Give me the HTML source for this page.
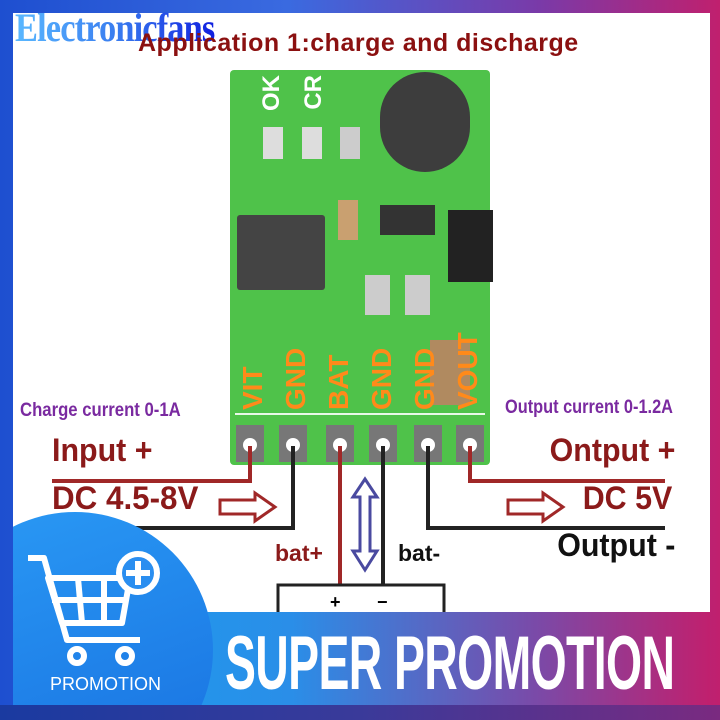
<!DOCTYPE html>
<html><head><style>
html,body{margin:0;width:720px;height:720px;overflow:hidden}
body{position:relative;font-family:"Liberation Sans",sans-serif;background:#fff}
.a{position:absolute}
.t{position:absolute;font-weight:bold;white-space:nowrap}
</style></head><body>
<div class="a" style="left:0;top:0;width:720px;height:720px;background:linear-gradient(90deg,#1e4fd0,#3a6ae0 40%,#7a3aa8 75%,#c0206e)"></div>
<div class="a" style="left:13px;top:13px;width:697px;height:692px;background:#fff"></div>
<div class="a" style="left:0;top:705px;width:720px;height:15px;background:linear-gradient(90deg,#1a3aa0,#3a3a9a 50%,#7a2a80)"></div>

<div class="t" style="left:15px;top:4px;font-family:'Liberation Serif',serif;font-size:40px;background:linear-gradient(90deg,#5ab8ff,#3a7ef0 50%,#1020e0);-webkit-background-clip:text;background-clip:text;color:transparent;transform:scaleX(.86);transform-origin:left;letter-spacing:-1px">Electronicfans</div>
<div class="t" style="left:138px;top:29px;font-size:25px;color:#8b1010;letter-spacing:0.5px">Application 1:charge and discharge</div>

<!-- board -->
<div class="a" style="left:230px;top:70px;width:260px;height:395px;background:#4fc24a;border-radius:4px"></div>
<div class="a" style="left:235px;top:413px;width:250px;height:2px;background:#e8f8e8"></div>
<div class="a" style="left:380px;top:72px;width:90px;height:100px;border-radius:45px;background:#3d3d3d"></div>
<div class="a" style="left:237px;top:215px;width:88px;height:75px;background:#444;border-radius:3px"></div>
<div class="a" style="left:380px;top:205px;width:55px;height:30px;background:#333"></div>
<div class="a" style="left:448px;top:210px;width:45px;height:72px;background:#222"></div>
<div class="a" style="left:263px;top:127px;width:20px;height:32px;background:#ddd"></div>
<div class="a" style="left:302px;top:127px;width:20px;height:32px;background:#ddd"></div>
<div class="a" style="left:340px;top:127px;width:20px;height:32px;background:#ccc"></div>
<div class="a" style="left:338px;top:200px;width:20px;height:40px;background:#c9a070"></div>
<div class="a" style="left:365px;top:275px;width:25px;height:40px;background:#ccc"></div>
<div class="a" style="left:405px;top:275px;width:25px;height:40px;background:#ccc"></div>
<div class="a" style="left:430px;top:340px;width:40px;height:65px;background:#b08a60"></div>
<div class="t" style="left:237px;top:330px;width:250px;height:80px;overflow:hidden;font-size:28px;color:#ff8a1a;display:flex;gap:11px">
<span style="writing-mode:vertical-rl;transform:rotate(180deg)">VIT</span><span style="writing-mode:vertical-rl;transform:rotate(180deg)">GND</span><span style="writing-mode:vertical-rl;transform:rotate(180deg)">BAT</span><span style="writing-mode:vertical-rl;transform:rotate(180deg)">GND</span><span style="writing-mode:vertical-rl;transform:rotate(180deg)">GND</span><span style="writing-mode:vertical-rl;transform:rotate(180deg)">VOUT</span></div>
<div class="t" style="left:258px;top:75px;font-size:24px;color:#fff;writing-mode:vertical-rl;transform:rotate(180deg)">OK</div>
<div class="t" style="left:300px;top:75px;font-size:24px;color:#fff;writing-mode:vertical-rl;transform:rotate(180deg)">CR</div>

<svg class="a" style="left:0;top:0" width="720" height="720">
<g fill="#777"><rect x="236" y="425" width="28" height="37"/><rect x="279" y="425" width="28" height="37"/><rect x="326" y="425" width="28" height="37"/><rect x="369" y="425" width="28" height="37"/><rect x="414" y="425" width="28" height="37"/><rect x="456" y="425" width="28" height="37"/></g>
<g fill="#fff"><circle cx="250" cy="445" r="7"/><circle cx="293" cy="445" r="7"/><circle cx="340" cy="445" r="7"/><circle cx="383" cy="445" r="7"/><circle cx="428" cy="445" r="7"/><circle cx="470" cy="445" r="7"/></g>
<g fill="none" stroke-width="4">
<polyline points="250,446 250,481 52,481" stroke="#a02828"/>
<polyline points="293,446 293,528 100,528" stroke="#222"/>
<polyline points="340,446 340,585" stroke="#a02828"/>
<polyline points="383,446 383,585" stroke="#222"/>
<polyline points="428,446 428,528 665,528" stroke="#222"/>
<polyline points="470,446 470,481 665,481" stroke="#a02828"/>
<rect x="278" y="585" width="166" height="40" stroke="#222" stroke-width="3"/>
<polygon points="220,500 255,500 255,493 275,507 255,521 255,514 220,514" stroke="#a02828" stroke-width="3"/>
<polygon points="508,500 543,500 543,493 563,507 543,521 543,514 508,514" stroke="#a02828" stroke-width="3"/>
<polygon points="365,479 377,497 370,497 370,551 377,551 365,570 353,551 360,551 360,497 353,497" stroke="#4a4aa0" stroke-width="3"/>
</g>
<text x="330" y="608" font-size="18" font-weight="bold" font-family="Liberation Sans">+</text>
<text x="377" y="608" font-size="18" font-weight="bold" font-family="Liberation Sans">−</text>
</svg>

<div class="t" style="left:20px;top:400px;font-size:19px;color:#7a2aa0;transform:scaleX(.88);transform-origin:left">Charge current 0-1A</div>
<div class="t" style="left:505px;top:397px;font-size:19px;color:#7a2aa0;transform:scaleX(.86);transform-origin:left">Output current 0-1.2A</div>
<div class="t" style="left:52px;top:432px;font-size:32px;color:#8b1a1a;transform:scaleX(.95);transform-origin:left">Input +</div>
<div class="t" style="left:52px;top:480px;font-size:32px;color:#8b1a1a;transform:scaleX(.98);transform-origin:left">DC 4.5-8V</div>
<div class="t" style="right:45px;top:432px;font-size:32px;color:#8b1a1a;transform:scaleX(.95);transform-origin:right">Ontput +</div>
<div class="t" style="right:48px;top:480px;font-size:32px;color:#8b1a1a;transform:scaleX(.95);transform-origin:right">DC 5V</div>
<div class="t" style="right:45px;top:527px;font-size:32px;color:#111;transform:scaleX(.95);transform-origin:right">Output -</div>
<div class="t" style="left:275px;top:540px;font-size:23px;color:#8b1a1a">bat+</div>
<div class="t" style="left:398px;top:540px;font-size:23px;color:#111">bat-</div>

<!-- banner -->
<div class="a" style="left:13px;top:612px;width:697px;height:93px;background:linear-gradient(90deg,#18a0f0,#2a8ee8 40%,#7a4aa8 75%,#c0206e)"></div>
<div class="a" style="left:13px;top:500px;width:697px;height:205px;overflow:hidden">
<div class="a" style="left:-76px;top:12px;width:276px;height:276px;border-radius:50%;background:linear-gradient(160deg,#2a9af5,#1870e0)"></div></div>
<svg class="a" style="left:22px;top:548px" width="150" height="125">
<g fill="none" stroke="#fff" stroke-width="6" stroke-linejoin="round">
<polyline points="6,10 22,10 45,92 118,92"/>
<polygon points="26,30 108,30 100,75 40,75"/>
<line x1="56" y1="30" x2="60" y2="75"/><line x1="82" y1="30" x2="82" y2="75"/>
<line x1="30" y1="52" x2="104" y2="52"/>
<circle cx="55" cy="108" r="7"/><circle cx="103" cy="108" r="7"/>
<circle cx="116" cy="25" r="19" fill="#2a8ef0"/><path d="M116 13V37M104 25H128"/></g>
</svg>
<div class="a" style="left:50px;top:674px;font-size:18px;color:#fff">PROMOTION</div>
<div class="t" style="left:225px;top:620px;font-size:76px;color:#fff;transform:scaleX(.61);transform-origin:left;letter-spacing:-1px">SUPER PROMOTION</div>
</body></html>
